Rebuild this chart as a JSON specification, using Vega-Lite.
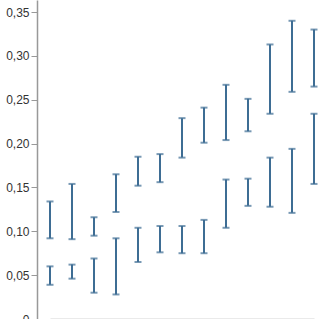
{
  "$schema": "https://vega.github.io/schema/vega-lite/v6.json",
  "autosize": "none",
  "padding": {"left": 37, "top": 0, "right": 0, "bottom": 0},
  "width": 283,
  "height": 319,
  "data": {"values": [
    {"x": 1, "series": "A", "lo": 0.092, "hi": 0.134},
    {"x": 1, "series": "B", "lo": 0.039, "hi": 0.060},
    {"x": 2, "series": "A", "lo": 0.091, "hi": 0.154},
    {"x": 2, "series": "B", "lo": 0.046, "hi": 0.062},
    {"x": 3, "series": "A", "lo": 0.095, "hi": 0.116},
    {"x": 3, "series": "B", "lo": 0.030, "hi": 0.069},
    {"x": 4, "series": "A", "lo": 0.122, "hi": 0.165},
    {"x": 4, "series": "B", "lo": 0.028, "hi": 0.092},
    {"x": 5, "series": "A", "lo": 0.152, "hi": 0.185},
    {"x": 5, "series": "B", "lo": 0.065, "hi": 0.104},
    {"x": 6, "series": "A", "lo": 0.156, "hi": 0.188},
    {"x": 6, "series": "B", "lo": 0.076, "hi": 0.106},
    {"x": 7, "series": "A", "lo": 0.184, "hi": 0.229},
    {"x": 7, "series": "B", "lo": 0.075, "hi": 0.106},
    {"x": 8, "series": "A", "lo": 0.201, "hi": 0.241},
    {"x": 8, "series": "B", "lo": 0.075, "hi": 0.113},
    {"x": 9, "series": "A", "lo": 0.204, "hi": 0.267},
    {"x": 9, "series": "B", "lo": 0.104, "hi": 0.159},
    {"x": 10, "series": "A", "lo": 0.214, "hi": 0.251},
    {"x": 10, "series": "B", "lo": 0.129, "hi": 0.160},
    {"x": 11, "series": "A", "lo": 0.234, "hi": 0.313},
    {"x": 11, "series": "B", "lo": 0.128, "hi": 0.184},
    {"x": 12, "series": "A", "lo": 0.259, "hi": 0.340},
    {"x": 12, "series": "B", "lo": 0.121, "hi": 0.194},
    {"x": 13, "series": "A", "lo": 0.265, "hi": 0.330},
    {"x": 13, "series": "B", "lo": 0.154, "hi": 0.234}
  ]},
  "encoding": {
    "x": {"field": "x", "type": "ordinal", "scale": {"type": "point", "range": [13, 277], "padding": 0},
      "axis": {"labels": false, "ticks": false, "title": null, "domainColor": "#aaa", "domainWidth": 1.5}},
    "detail": {"field": "series"}
  },
  "layer": [
    {"mark": {"type": "rule", "color": "#3e6d94", "strokeWidth": 2},
     "encoding": {
       "y": {"field": "lo", "type": "quantitative", "scale": {"domain": [0, 0.3637], "nice": false, "zero": false},
         "axis": {"title": null, "values": [0, 0.05, 0.1, 0.15, 0.2, 0.25, 0.3, 0.35], "grid": false,
           "labelExpr": "datum.value === 0 ? '0' : replace(format(datum.value, '.2f'), '.', ',')",
           "labelFont": "Liberation Sans", "labelFontSize": 12, "labelColor": "#333",
           "tickSize": 6, "labelPadding": 2, "tickColor": "#999", "domainColor": "#999", "domainWidth": 1.5}},
       "y2": {"field": "hi"}
     }},
    {"mark": {"type": "tick", "color": "#3e6d94", "size": 7, "thickness": 2, "orient": "horizontal"},
     "encoding": {"y": {"field": "lo", "type": "quantitative"}}},
    {"mark": {"type": "tick", "color": "#3e6d94", "size": 7, "thickness": 2, "orient": "horizontal"},
     "encoding": {"y": {"field": "hi", "type": "quantitative"}}}
  ],
  "config": {"view": {"stroke": null}}
}
